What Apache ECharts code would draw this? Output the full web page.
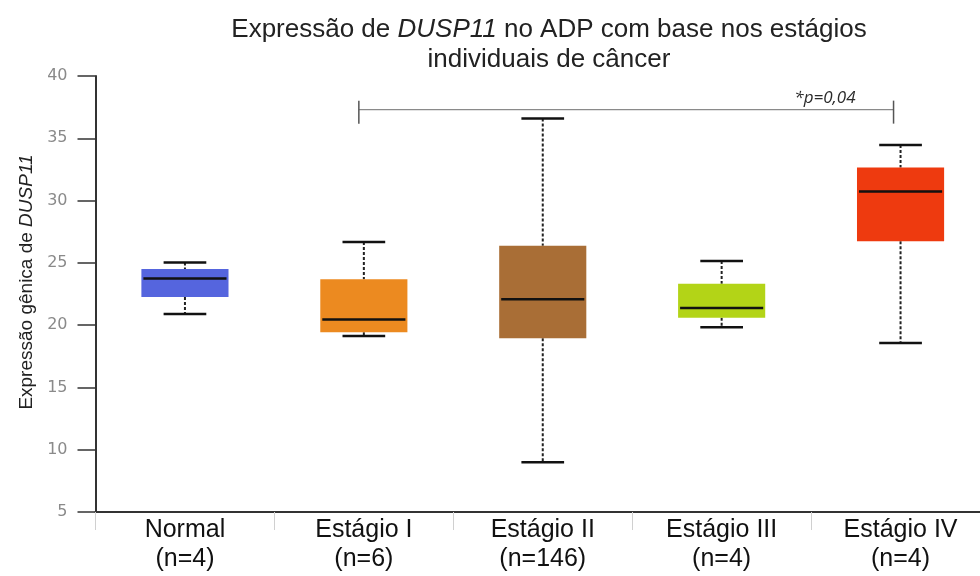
<!DOCTYPE html>
<html>
<head>
<meta charset="utf-8">
<script src="https://cdn.jsdelivr.net/npm/echarts@6/dist/echarts.min.js"></script>
<style>
  html, body { margin: 0; padding: 0; background: #fff; }
  #chart { width: 980px; height: 576px; }
</style>
</head>
<body>
<div id="chart"></div>
<script>
// Stage groups and sample sizes
const stages = ['Normal', 'Estágio I', 'Estágio II', 'Estágio III', 'Estágio IV'];
const sampleSizes = [4, 6, 146, 4, 4];

// Box statistics per group (DUSP11 expression)
const minimum = [20.9, 19.13, 9.0, 19.83, 18.57];
const lowerQuartile = [22.25, 19.43, 18.94, 20.6, 26.73];
const median = [23.75, 20.45, 22.07, 21.38, 30.72];
const upperQuartile = [24.5, 23.68, 26.38, 23.33, 32.65];
const maximum = [25.02, 26.67, 36.58, 25.15, 34.46];

const boxColors = ['#5565de', '#ec8a20', '#a96e36', '#b3d417', '#ee3a0f'];

// Y axis ticks
const yMin = 5, yMax = 40, yStep = 5;

// Significance bracket: Estágio I vs Estágio IV
const bracketFrom = 1, bracketTo = 4, bracketLevel = 37.3;
const bracketLabel = '*p=0,04';

const categories = stages.map((s, i) => s + '\n(n=' + sampleSizes[i] + ')');
const boxData = stages.map((s, i) => [i, minimum[i], lowerQuartile[i], median[i], upperQuartile[i], maximum[i]]);

const chart = echarts.init(document.getElementById('chart'), null, { renderer: 'canvas' });

function renderBox(params, api) {
  const idx = api.value(0);
  const x = api.coord([idx, yMin])[0];
  const yLow = api.coord([idx, api.value(1)])[1];
  const yQ1 = api.coord([idx, api.value(2)])[1];
  const yMed = api.coord([idx, api.value(3)])[1];
  const yQ3 = api.coord([idx, api.value(4)])[1];
  const yHigh = api.coord([idx, api.value(5)])[1];
  const band = api.size([1, 0])[0];
  const bw = band * 0.487;
  const cw = bw * 0.49;
  const dash = { stroke: '#222', lineWidth: 2, lineDash: [3, 2] };
  const solid = { stroke: '#111', lineWidth: 2.5 };
  return {
    type: 'group',
    children: [
      { type: 'line', shape: { x1: x, y1: yHigh, x2: x, y2: yQ3 }, style: dash },
      { type: 'line', shape: { x1: x, y1: yQ1, x2: x, y2: yLow }, style: dash },
      { type: 'rect', shape: { x: x - bw / 2, y: yQ3, width: bw, height: yQ1 - yQ3 },
        style: { fill: boxColors[idx], stroke: null } },
      { type: 'line', shape: { x1: x - bw / 2 + 2, y1: yMed, x2: x + bw / 2 - 2, y2: yMed }, style: solid },
      { type: 'line', shape: { x1: x - cw / 2, y1: yHigh, x2: x + cw / 2, y2: yHigh }, style: solid },
      { type: 'line', shape: { x1: x - cw / 2, y1: yLow, x2: x + cw / 2, y2: yLow }, style: solid }
    ]
  };
}

function renderBracket(params, api) {
  const p1 = api.coord([api.value(0), api.value(2)]);
  const p2 = api.coord([api.value(1), api.value(2)]);
  const x1 = p1[0] - 5, x2 = p2[0] - 7, y = p1[1];
  return {
    type: 'group',
    children: [
      { type: 'line', shape: { x1: x1, y1: y, x2: x2, y2: y }, style: { stroke: '#8a8a8a', lineWidth: 1.3 } },
      { type: 'line', shape: { x1: x1, y1: y - 9, x2: x1, y2: y + 14 }, style: { stroke: '#555', lineWidth: 1.5 } },
      { type: 'line', shape: { x1: x2, y1: y - 9, x2: x2, y2: y + 14 }, style: { stroke: '#555', lineWidth: 1.5 } },
      { type: 'text', x: x2 - 38, y: y - 11,
        style: { text: bracketLabel, fill: '#2a2a2a', font: 'italic 17px "Open Sans", sans-serif',
                 align: 'right', verticalAlign: 'middle' } }
    ]
  };
}

const labelFont = '"Liberation Sans", Arial, sans-serif';

const option = {
  backgroundColor: '#ffffff',
  animation: false,
  title: {
    text: '{n|Expressão de }{i|DUSP11}{n| no ADP com base nos estágios}\n{n|individuais de câncer}',
    left: 544,
    top: 10,
    textAlign: 'center',
    textStyle: {
      fontWeight: 'normal',
      rich: {
        n: { fontFamily: labelFont, fontSize: 26, fontWeight: 'normal', color: '#222', lineHeight: 30 },
        i: { fontFamily: labelFont, fontSize: 26, fontWeight: 'normal', color: '#222', fontStyle: 'italic', lineHeight: 30 }
      }
    }
  },
  grid: { left: 95.5, right: -10, top: 76, bottom: 64, containLabel: false, outerBoundsMode: 'none' },
  xAxis: {
    type: 'category',
    data: categories,
    boundaryGap: true,
    axisLine: { show: true, lineStyle: { color: '#333', width: 2 } },
    axisTick: { show: true, length: 18, lineStyle: { color: '#d0d0d0', width: 1 } },
    axisLabel: {
      interval: 0,
      margin: 4,
      color: '#111',
      fontFamily: labelFont,
      fontSize: 25,
      lineHeight: 29
    },
    splitLine: { show: false }
  },
  yAxis: {
    type: 'value',
    min: yMin,
    max: yMax,
    interval: yStep,
    name: '{a|Expressão gênica de }{b|DUSP11}',
    nameLocation: 'middle',
    nameRotate: 90,
    nameGap: 58,
    nameTextStyle: {
      padding: [0, 0, 0, 24],
      rich: {
        a: { fontFamily: labelFont, fontSize: 19, color: '#222' },
        b: { fontFamily: labelFont, fontSize: 19, color: '#222', fontStyle: 'italic' }
      }
    },
    axisLine: { show: true, lineStyle: { color: '#333', width: 2 } },
    axisTick: { show: true, length: 18, lineStyle: { color: '#333', width: 1.5 } },
    axisLabel: {
      margin: 28,
      color: '#8a8a8a',
      fontFamily: '"DejaVu Sans", sans-serif',
      fontSize: 16
    },
    splitLine: { show: false }
  },
  series: [
    {
      type: 'custom',
      name: 'boxes',
      renderItem: renderBox,
      encode: { x: 0, y: [1, 2, 3, 4, 5] },
      data: boxData,
      z: 3
    },
    {
      type: 'custom',
      name: 'bracket',
      renderItem: renderBracket,
      encode: { x: [0, 1], y: 2 },
      data: [[bracketFrom, bracketTo, bracketLevel]],
      z: 4
    }
  ]
};

chart.setOption(option);
</script>
</body>
</html>
